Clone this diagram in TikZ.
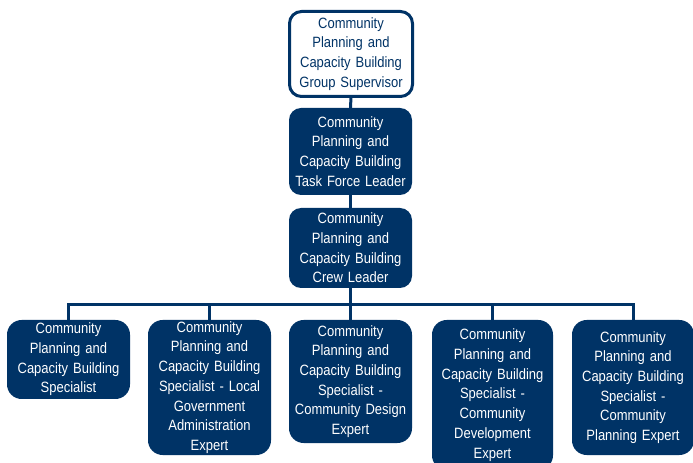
\documentclass[tikz,border=0pt]{standalone}
\usepackage{fontspec}
\setmainfont{Liberation Sans}[FakeStretch=0.87]
\definecolor{navy}{RGB}{0,51,102}
\begin{document}
\begin{tikzpicture}[x=0.75pt,y=-0.75pt,
  base/.style={inner sep=0pt, outer sep=0pt, align=center, text width=90pt,
    font=\fontsize{11.2}{14.8}\selectfont},
  wbox/.style={base, draw=navy, line width=2.25pt, fill=white, text=navy, rounded corners=9pt},
  fbox/.style={base, fill=navy, text=white, rounded corners=9pt},
  lbox/.style={base, fill=navy, text=white, rounded corners=11pt},
  conn/.style={draw=navy, line width=2.25pt}]
\useasboundingbox (0,0) rectangle (693,463);
\clip (0,0) rectangle (693,463);
\node[wbox, minimum width=92.25pt, minimum height=63.75pt] (gs) at (351,54)
  {Community\\Planning and\\Capacity Building\\Group Supervisor};
\node[fbox, minimum width=92.25pt, minimum height=65.25pt] (tf) at (350.5,151.5)
  {Community\\Planning and\\Capacity Building\\Task Force Leader};
\node[fbox, minimum width=92.25pt, minimum height=60pt] (cl) at (350.5,248)
  {Community\\Planning and\\Capacity Building\\Crew Leader};
\node[lbox, minimum width=92.25pt, minimum height=59.25pt] (b1) at (68.5,359.5)
  {Community\\Planning and\\Capacity Building\\Specialist};
\node[lbox, minimum width=92.25pt, minimum height=101.25pt] (b2) at (209.5,387.5)
  {Community\\Planning and\\Capacity Building\\Specialist - Local\\Government\\Administration\\Expert};
\node[lbox, minimum width=92.25pt, minimum height=92.25pt] (b3) at (350.5,381.5)
  {Community\\Planning and\\Capacity Building\\Specialist -\\Community Design\\Expert};
\node[lbox, minimum width=90.75pt, minimum height=112.5pt] (b4) at (492.5,395)
  {Community\\Planning and\\Capacity Building\\Specialist -\\Community\\Development\\Expert};
\node[lbox, minimum width=91.5pt, minimum height=101.25pt] (b5) at (633,387.5)
  {Community\\Planning and\\Capacity Building\\Specialist -\\Community\\Planning Expert};
\coordinate (bus) at (0,305);
\draw[conn] (gs.south) -- (tf.north);
\draw[conn] (tf.south) -- (cl.north);
\draw[conn] (cl.south) -- (cl.south |- bus);
\draw[conn] (b1.north) -- (b1.north |- bus) -- (b5.north |- bus) -- (b5.north);
\draw[conn] (b2.north) -- (b2.north |- bus);
\draw[conn] (b3.north) -- (b3.north |- bus);
\draw[conn] (b4.north) -- (b4.north |- bus);
\end{tikzpicture}
\end{document}
